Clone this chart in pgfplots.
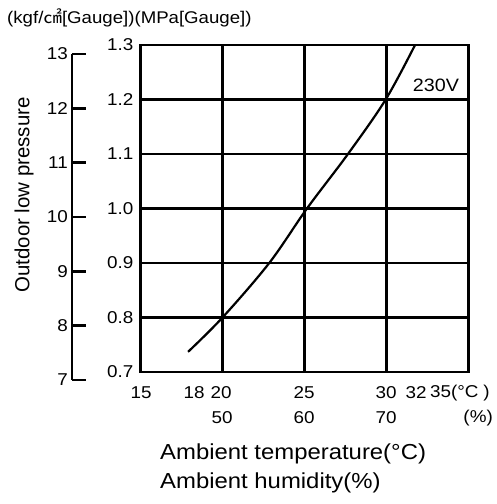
\documentclass[border=0pt]{standalone}
\usepackage{fontspec}
\setmainfont{Liberation Sans}[FakeStretch=1.1]
\newfontfamily\plainsans{Liberation Sans}
\newfontfamily\cjk{Noto Sans CJK JP}[FakeStretch=1.1]
\usepackage{pgfplots}
\pgfplotsset{compat=1.18}
\newcommand{\tfont}{\fontsize{17.2}{18}\selectfont}
\begin{document}
\begin{tikzpicture}[x=1bp,y=1bp]
\useasboundingbox (0,0) rectangle (497,504);
% main axis (MPa)
\begin{axis}[
  at={(140.5bp,132bp)}, anchor=south west,
  scale only axis, width=328bp, height=327bp,
  xmin=15, xmax=35, ymin=0.7, ymax=1.3,
  xtick={20,25,30}, xticklabels={},
  ytick={0.7,0.8,0.9,1.0,1.1,1.2,1.3},
  yticklabels={0.7,0.8,0.9,1.0,1.1,1.2,1.3},
  major tick length=0pt,
  grid=major, grid style={black, line width=2.4bp},
  axis line style={line width=2.8bp},
  yticklabel style={font=\tfont, inner sep=0pt, xshift=-7bp},
  clip=false,
]
\addplot[black, line width=2.2bp, smooth, tension=0.55] coordinates {
  (17.9,0.737) (20,0.8) (22.85,0.9) (25.15,1.0) (27.65,1.1) (29.95,1.2) (31.74,1.3)
};
\end{axis}
% kgf/cm2 scale
\begin{axis}[
  at={(72bp,124bp)}, anchor=south west,
  scale only axis, width=20bp, height=326bp,
  xmin=0, xmax=1, ymin=7, ymax=13,
  axis y line*=left, hide x axis,
  ytick={7,8,9,10,11,12,13},
  yticklabels={7,8,9,10,11,12,13},
  tick align=inside, major tick length=14bp,
  every tick/.style={black, line width=2.8bp},
  axis line style={line width=2.8bp},
  yticklabel style={font=\tfont, inner sep=0pt, xshift=-4bp},
]
\addplot[draw=none, forget plot] coordinates {(0,7) (1,13)};
\end{axis}
% x tick labels
\begin{scope}[every node/.style={font=\tfont, inner sep=0pt}]
\node at (141,111) {15};
\node at (194,111) {18};
\node at (221,111) {20};
\node at (304,111) {25};
\node at (386,111) {30};
\node at (416,111) {32};
\node[anchor=west] at (430,111) {35(°C\;)};
\node at (222,86) {50};
\node at (304,86) {60};
\node at (386,86) {70};
\node[anchor=east] at (493,86) {(\%)};
\end{scope}
\node[font=\fontsize{18}{18}\selectfont, inner sep=0pt] at (436,419) {230V};
\node[rotate=90, font=\plainsans\fontsize{20.5}{21}\selectfont, inner sep=0pt] at (24,309) {Outdoor low pressure};
\node[anchor=west, font=\fontsize{21.8}{22}\selectfont, inner sep=0pt] at (160,50) {Ambient temperature(°C)};
\node[anchor=west, font=\fontsize{21.8}{22}\selectfont, inner sep=0pt] at (160,21) {Ambient humidity(\%)};
\node[anchor=west, font=\fontsize{17}{17}\selectfont, inner sep=0pt] at (7,486) {(kgf/{\cjk ㎠}[Gauge])(MPa[Gauge])};
\end{tikzpicture}
\end{document}
